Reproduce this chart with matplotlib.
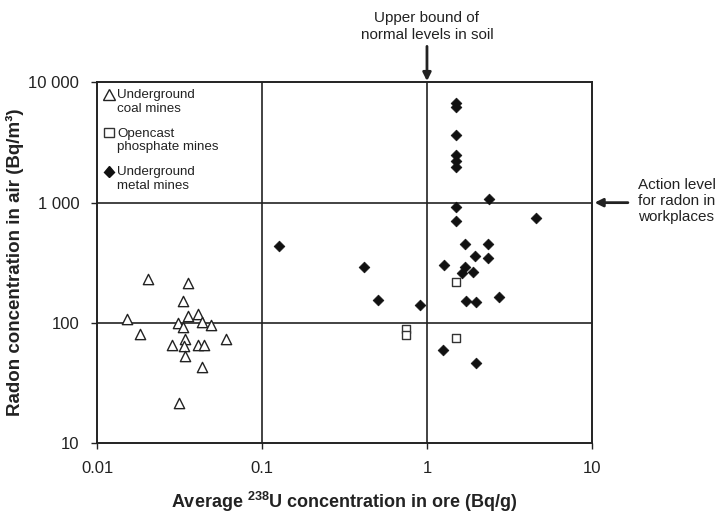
import matplotlib
matplotlib.use('Agg')
import matplotlib.pyplot as plt
from matplotlib.lines import Line2D
from matplotlib.markers import MarkerStyle
from matplotlib.transforms import Affine2D

# Data
coal_x = [0.0204, 0.0356, 0.0330, 0.0151, 0.0356, 0.0410, 0.0308, 0.0330, 0.0433, 0.0490,
          0.0182, 0.0601, 0.0340, 0.0285, 0.0336, 0.0410, 0.0446, 0.0340, 0.0433, 0.0313]
coal_y = [231, 214, 153, 107, 115, 118, 100, 93, 101, 96,
          81, 73, 73, 66, 64, 65, 66, 53, 43, 21.4]

phos_x = [1.49, 0.746, 0.746, 1.49]
phos_y = [218, 89.5, 79.8, 74.9]

metal_x = [1.50, 1.50, 1.50, 1.50, 1.50, 1.50, 1.50, 1.50, 2.39, 4.59,
           1.70, 2.33, 1.96, 2.33, 1.27, 1.69, 1.63, 1.90, 1.73, 1.97,
           2.74, 1.25, 1.97, 0.126, 0.417, 0.505, 0.912]
metal_y = [6790, 6290, 3660, 2490, 2220, 1990, 916, 705, 1067, 746,
           453, 451, 360, 345, 303, 289, 260, 265, 153, 150,
           163, 59.8, 46.7, 438, 294, 156, 140]

x_ticks = [0.01, 0.1, 1, 10]
x_ticklabels = ['0.01', '0.1', '1', '10']
y_ticks = [10, 100, 1000, 10000]
y_ticklabels = ['10', '100', '1 000', '10 000']

series_labels = ['Underground\ncoal mines', 'Opencast\nphosphate mines', 'Underground\nmetal mines']

plt.rcParams['font.family'] = ['Liberation Sans', 'DejaVu Sans']
plt.rcParams['mathtext.fontset'] = 'custom'
plt.rcParams['mathtext.bf'] = 'Liberation Sans:bold'
plt.rcParams['mathtext.rm'] = 'Liberation Sans'

fig = plt.figure(figsize=(7.21, 5.25), dpi=100)
ax = fig.add_axes([0.135, 0.1562, 0.6858, 0.6867])

ax.scatter(coal_x, coal_y, marker='^', s=55, facecolor='white', edgecolor='#222222', linewidth=1.0, zorder=3)
ax.scatter(phos_x, phos_y, marker='s', s=36, facecolor='white', edgecolor='#333333', linewidth=1.0, zorder=3)
ax.scatter(metal_x, metal_y, marker='D', s=30, facecolor='#111111', edgecolor='#111111', linewidth=0.5, zorder=4)

ax.set_xscale('log')
ax.set_yscale('log')
ax.set_xlim(0.01, 10)
ax.set_ylim(10, 10000)
ax.set_xticks(x_ticks)
ax.set_xticklabels(x_ticklabels)
ax.set_yticks(y_ticks)
ax.set_yticklabels(y_ticklabels)
ax.minorticks_off()
ax.tick_params(direction='out', length=4, width=1, labelsize=12, pad=9, colors='#222222')

# inner grid lines
for gx in x_ticks[1:-1]:
    ax.axvline(gx, color='#222222', lw=1.2, zorder=1)
for gy in y_ticks[1:-1]:
    ax.axhline(gy, color='#222222', lw=1.2, zorder=1)
for sp in ax.spines.values():
    sp.set_linewidth(1.4)
    sp.set_color('#222222')

ax.set_ylabel('Radon concentration in air (Bq/m³)', fontsize=13.5, fontweight='bold', color='#222222')
ax.yaxis.label.set_va('center')
ax.yaxis.set_label_coords(-0.1665, 0.5)
ax.set_xlabel(r'Average $^{\mathbf{238}}$U concentration in ore (Bq/g)',
              fontsize=13, fontweight='bold', color='#222222')
ax.xaxis.label.set_va('center')
ax.xaxis.set_label_coords(0.5, -0.164)

# legend in the top-left cell; markers lifted to sit beside the first text line
shift = 5.2  # points
handles = [
    Line2D([], [], ls='none', marker=MarkerStyle('^', transform=Affine2D().translate(0, shift / 8)),
           ms=8, mfc='white', mec='#222222', mew=1.0),
    Line2D([], [], ls='none', marker=MarkerStyle('s', transform=Affine2D().translate(0, shift / 6.5)),
           ms=6.5, mfc='white', mec='#333333', mew=1.0),
    Line2D([], [], ls='none', marker=MarkerStyle('D', transform=Affine2D().translate(0, shift / 5.5)),
           ms=5.5, mfc='#111111', mec='#111111'),
]
leg = ax.legend(handles, series_labels, loc='upper left', bbox_to_anchor=(0.0, 1.0),
                frameon=False, fontsize=9.6, handlelength=0.7, handletextpad=0.3,
                labelspacing=0.95, borderaxespad=0.3, borderpad=0.2)
for t in leg.get_texts():
    t.set_linespacing(1.2)
    t.set_color('#222222')

# annotations
ax.annotate('', xy=(1, 10000), xytext=(0, 26), textcoords='offset points',
            arrowprops=dict(arrowstyle='-|>', lw=2, color='#222222', mutation_scale=12,
                            shrinkA=0, shrinkB=1))
ax.annotate('Upper bound of\nnormal levels in soil', xy=(1, 10000), xytext=(0, 29),
            textcoords='offset points', ha='center', va='bottom', fontsize=11,
            color='#222222', linespacing=1.25)
ax.annotate('', xy=(10, 1000), xytext=(26, 0), textcoords='offset points',
            arrowprops=dict(arrowstyle='-|>', lw=2, color='#222222', mutation_scale=12,
                            shrinkA=0, shrinkB=2), annotation_clip=False)
ax.annotate('Action level\nfor radon in\nworkplaces', xy=(10, 1000), xytext=(33, 1),
            textcoords='offset points', ha='left', va='center', fontsize=11,
            color='#222222', linespacing=1.2, annotation_clip=False)

fig.savefig('out.png', dpi=100, facecolor='white')
